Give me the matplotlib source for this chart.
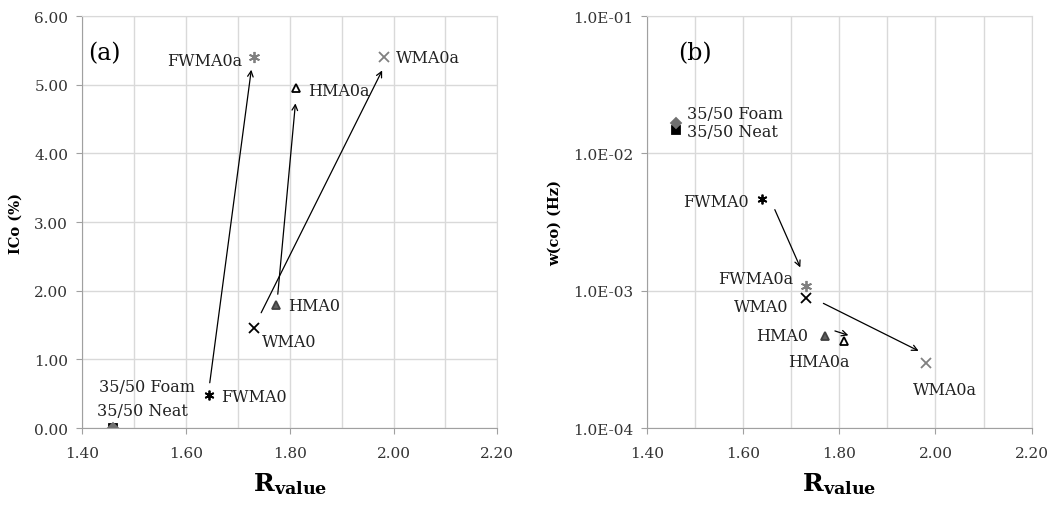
"""Two-panel scatter of ICo and w(co) against R_value for binder samples."""
import matplotlib.pyplot as plt
from matplotlib.ticker import FixedLocator, FuncFormatter, MultipleLocator

plt.rcParams['font.family'] = 'DejaVu Serif'
plt.rcParams['mathtext.fontset'] = 'dejavuserif'

# Sample names and values.
samples = ['35/50 Neat', '35/50 Foam', 'FWMA0', 'WMA0', 'HMA0',
           'FWMA0a', 'HMA0a', 'WMA0a']
r_value = [1.46, 1.46, 1.644, 1.732, 1.773, 1.732, 1.812, 1.982]
ico = [0.00, 0.00, 0.48, 1.46, 1.80, 5.40, 4.95, 5.40]
r_value_b = [1.46, 1.46, 1.64, 1.73, 1.77, 1.73, 1.81, 1.98]
wco = [0.0149, 0.0167, 0.00465, 0.00088, 0.000465, 0.00109, 0.000428, 0.000300]

# Marker style per sample: (marker, face colour, edge colour, size)
styles = {
    '35/50 Neat': ('s', 'black', 'black', 6),
    '35/50 Foam': ('D', '#707070', '#707070', 5),
    'FWMA0': ((6, 2, 0), 'black', 'black', 7),
    'WMA0': ('x', 'black', 'black', 7),
    'HMA0': ('^', '#606060', '#404040', 6),
    'FWMA0a': ((6, 2, 0), '#808080', '#808080', 8),
    'HMA0a': ('^', 'white', 'black', 6),
    'WMA0a': ('x', '#808080', '#808080', 7),
}

# Label placement: (dx, dy) offset in pixels from the marker, alignment
labels_a = {
    '35/50 Neat': (-16, 18, 'left'),
    '35/50 Foam': (82, 42, 'right'),
    'FWMA0': (12, -1, 'left'),
    'WMA0': (8, -14, 'left'),
    'HMA0': (12, -1, 'left'),
    'FWMA0a': (-12, -3, 'right'),
    'HMA0a': (12, -2, 'left'),
    'WMA0a': (12, 0, 'left'),
}
labels_b = {
    '35/50 Neat': (11, -2, 'left'),
    '35/50 Foam': (11, 9, 'left'),
    'FWMA0': (-14, -2, 'right'),
    'WMA0': (-17, -8, 'right'),
    'HMA0': (-17, 1, 'right'),
    'FWMA0a': (-12, 7, 'right'),
    'HMA0a': (-25, -20, 'center'),
    'WMA0a': (19, -27, 'center'),
}

# Arrows (start -> end) in data coordinates
arrows_a = [((1.646, 0.66), (1.726, 5.22)),
            ((1.777, 1.95), (1.811, 4.73)),
            ((1.745, 1.68), (1.978, 5.21))]
arrows_b = [((1.666, 0.0039), (1.719, 0.00148)),
            ((1.767, 0.00081), (1.965, 0.000365)),
            ((1.791, 0.00051), (1.819, 0.000474))]

grid_color = '#d9d9d9'


def style_axes(ax):
    ax.set_xlim(1.40, 2.20)
    ax.xaxis.set_major_locator(MultipleLocator(0.2))
    ax.xaxis.set_minor_locator(MultipleLocator(0.1))
    ax.xaxis.set_major_formatter(FuncFormatter(lambda v, p: f'{v:.2f}'))
    ax.grid(True, which='both', axis='x', color=grid_color, lw=1)
    ax.grid(True, which='major', axis='y', color=grid_color, lw=1)
    ax.set_axisbelow(True)
    for side in ['top', 'right']:
        ax.spines[side].set_color(grid_color)
    for side in ['left', 'bottom']:
        ax.spines[side].set_color('#a0a0a0')
    ax.tick_params(which='both', length=4, color='#a0a0a0', labelsize=11,
                   labelcolor='#333333', pad=6)
    ax.tick_params(axis='x', pad=9)
    ax.tick_params(which='minor', length=0)
    ax.set_xlabel(r'$\mathbf{R_{value}}$', fontsize=18, labelpad=7)


def draw(ax, xs, ys, labels, arrows):
    for name, x, y in zip(samples, xs, ys):
        marker, fc, ec, ms = styles[name]
        ax.plot(x, y, marker=marker, ms=ms, mfc=fc, mec=ec, mew=1.3,
                linestyle='none')
        dx, dy, ha = labels[name]
        ax.annotate(name, (x, y), xytext=(dx, dy), textcoords='offset pixels',
                    ha=ha, va='center', fontsize=11.5, color='#222222')
    for start, end in arrows:
        ax.annotate('', xy=end, xytext=start,
                    arrowprops=dict(arrowstyle='->', color='black', lw=0.9,
                                    shrinkA=0, shrinkB=0))


fig = plt.figure(figsize=(10.57, 5.06), dpi=100)
ax_a = fig.add_axes([0.0776, 0.152, 0.393, 0.814])
ax_b = fig.add_axes([0.612, 0.152, 0.364, 0.814])

# Panel (a)
style_axes(ax_a)
ax_a.set_ylim(0, 6)
ax_a.yaxis.set_major_locator(MultipleLocator(1))
ax_a.yaxis.set_major_formatter(FuncFormatter(lambda v, p: f'{v:.2f}'))
ax_a.set_ylabel('ICo (%)', fontsize=10.5, fontweight='bold', labelpad=8)
draw(ax_a, r_value, ico, labels_a, arrows_a)
ax_a.text(0.015, 0.895, '(a)', transform=ax_a.transAxes, fontsize=17)

# Panel (b)
style_axes(ax_b)
ax_b.set_yscale('log')
ax_b.set_ylim(1e-4, 1e-1)
ax_b.yaxis.set_major_locator(FixedLocator([1e-4, 1e-3, 1e-2, 1e-1]))
ax_b.yaxis.set_minor_locator(FixedLocator([]))
ax_b.yaxis.set_major_formatter(FuncFormatter(lambda v, p: f'{v:.1E}'))
ax_b.set_ylabel('w(co) (Hz)', fontsize=10.5, fontweight='bold', labelpad=8)
draw(ax_b, r_value_b, wco, labels_b, arrows_b)
ax_b.text(0.08, 0.895, '(b)', transform=ax_b.transAxes, fontsize=17)

fig.savefig('out.png', dpi=100)
